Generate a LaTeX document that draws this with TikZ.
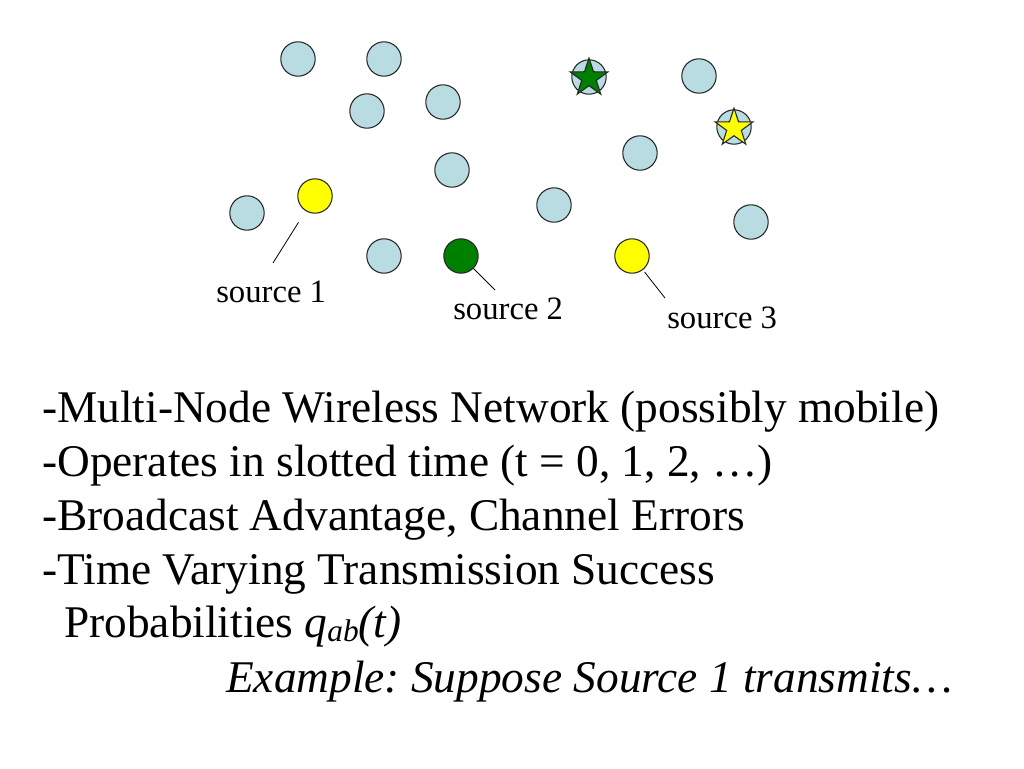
\documentclass[tikz,border=0pt]{standalone}
\usepackage{fontspec}
\setmainfont{Liberation Serif}
\usepackage{tikz}
\usetikzlibrary{shapes.geometric}
\definecolor{NodeBlue}{HTML}{B8DCE2}
\definecolor{SrcGreen}{HTML}{008000}
\definecolor{SrcYellow}{HTML}{FFFF00}
\frenchspacing

\begin{document}
\begin{tikzpicture}[x=0.75pt, y=-0.75pt,
    dot/.style={circle, draw=black!85, line width=0.8pt, fill=NodeBlue, minimum size=25.8pt, inner sep=0pt},
    starmark/.style={star, star points=5, star point ratio=2.6, draw=black!85, line width=0.8pt, minimum size=30pt, inner sep=0pt},
    srclabel/.style={anchor=base west, inner sep=0pt, font=\fontsize{24.5}{29}\selectfont},
    bullet/.style={anchor=base west, inner sep=0pt, font=\fontsize{34}{40.5}\selectfont}]
      \useasboundingbox (0,0) rectangle (1024,768);
      % wireless nodes
      \node[dot] (n1) at (298,59) {};
      \node[dot] (n2) at (384,59) {};
      \node[dot] (n3) at (367,111) {};
      \node[dot] (n4) at (443,102) {};
      \node[dot] (n5) at (699,76) {};
      \node[dot] (n6) at (640,153) {};
      \node[dot] (n7) at (452,170) {};
      \node[dot] (n8) at (554,205) {};
      \node[dot] (n9) at (247,213) {};
      \node[dot] (n10) at (751,222) {};
      \node[dot] (n11) at (384,256) {};
      % destinations marked by stars
      \node[dot] (d2) at (589,77) {};
      \node[starmark, fill=SrcGreen] (gstar) at (589,78) {};
      \node[dot] (d3) at (734,127) {};
      \node[starmark, fill=SrcYellow] (ystar) at (734,128) {};
      % sources
      \node[dot, fill=SrcYellow] (src1) at (315,196) {};
      \node[dot, fill=SrcGreen] (src2) at (461,256) {};
      \node[dot, fill=SrcYellow] (src3) at (632,256) {};
      \node[srclabel] (lab1) at (216,302) {source 1};
      \node[srclabel] (lab2) at (453,319) {source 2};
      \node[srclabel] (lab3) at (667,328) {source 3};
      \coordinate (t1) at (273,263);
      \coordinate (t2) at (495,290);
      \coordinate (t3) at (665,298);
      \draw[line width=0.6pt, shorten <=10pt] (src1) -- (t1);
      \draw[line width=0.6pt] (src2) -- (t2);
      \draw[line width=0.6pt, shorten <=2pt] (src3) -- (t3);
      % text
      \node[bullet] (b1) at (42,422) {-Multi-Node Wireless Network (possibly mobile)};
      \node[bullet] (b2) at (42,476) {-Operates in slotted time (t = 0, 1, 2, …)};
      \node[bullet] (b3) at (42,530) {-Broadcast Advantage, Channel Errors};
      \node[bullet] (b4) at (42,584) {-Time Varying Transmission Success};
      \node[bullet] (b5) at (64,637) {Probabilities \textit{q}\raisebox{-3.5pt}{\fontsize{23.5}{23.5}\selectfont\itshape ab}\textit{(t)}};
      \node[bullet] (b6) at (226,692) {\itshape Example: Suppose Source 1 transmits…};
    \end{tikzpicture}
\end{document}
